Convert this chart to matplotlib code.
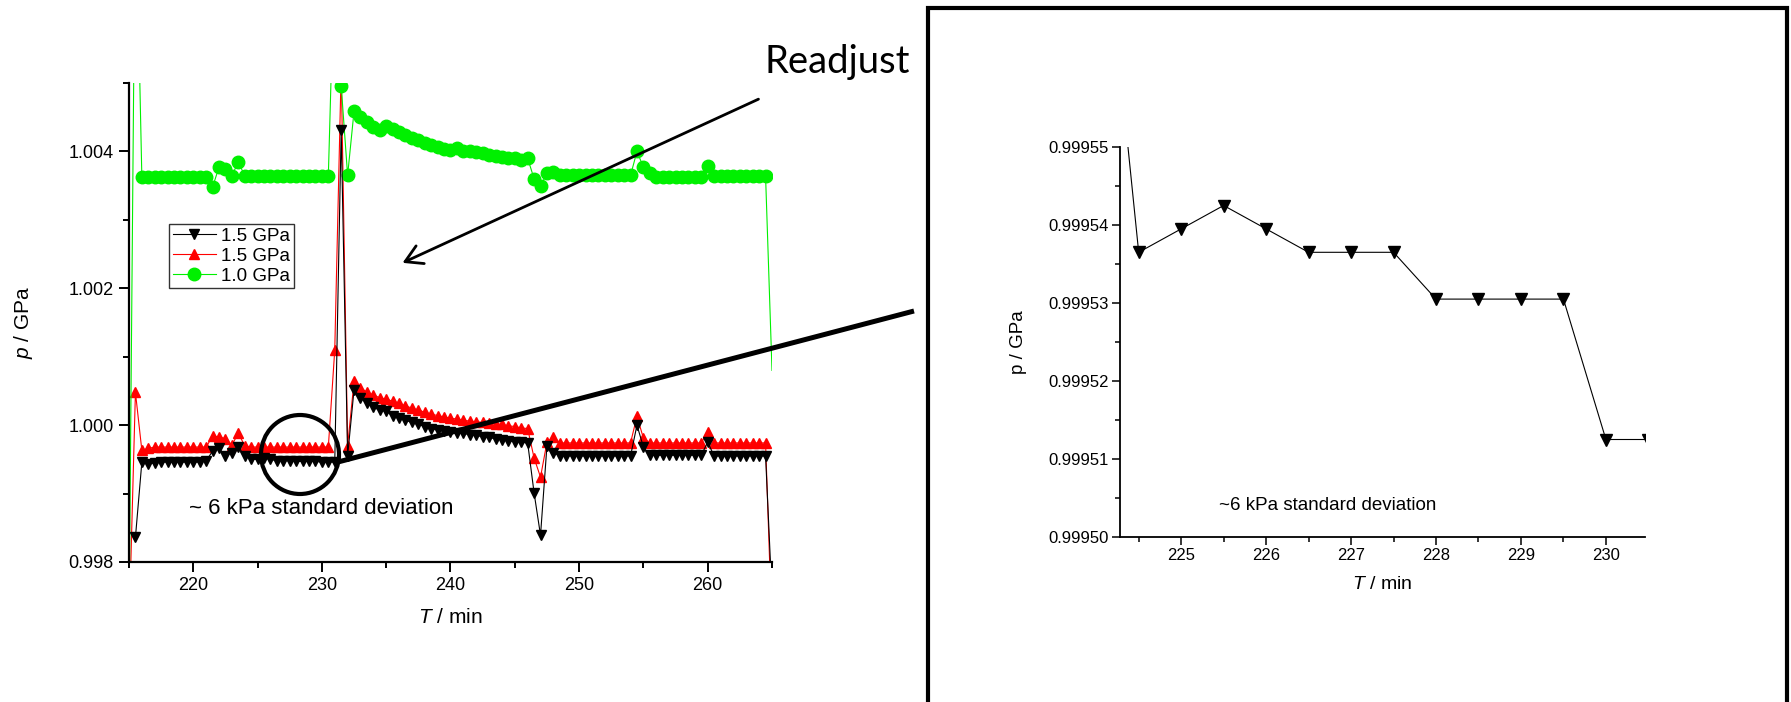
import numpy as np
import matplotlib
matplotlib.use('Agg')
import matplotlib.pyplot as plt
from matplotlib.ticker import MultipleLocator, FormatStrFormatter
from matplotlib.patches import Ellipse, Rectangle, FancyArrowPatch
from matplotlib.lines import Line2D

plt.rcParams['font.family'] = ['Liberation Sans', 'DejaVu Sans']
plt.rcParams['mathtext.fontset'] = 'custom'
plt.rcParams['mathtext.rm'] = 'Liberation Sans'
plt.rcParams['mathtext.it'] = 'Liberation Sans:italic'

# --- data: full run, one reading every 0.5 min (215 .. 265) ---
t_run = np.arange(215.0, 265.5, 0.5)

p_black = ([np.nan, 0.99836, 0.99946, 0.99943, 0.99945] + [0.99946] * 7 +
           [0.99948, 0.99962, 0.99966, 0.99955, 0.99960, 0.99968, 0.99955,
            0.99950, 0.99950, 0.99952, 0.99950, 0.99948, 0.99948, 0.99948,
            0.99947, 0.99947, 0.99947, 0.99947, 0.99946, 0.99946, 0.99946,
            1.00432, 0.99955,
            1.00052, 1.00040, 1.00032, 1.00026, 1.00022, 1.00020, 1.00014,
            1.00010, 1.00007, 1.00004, 1.00001, 0.99998, 0.99995, 0.99993,
            0.99991, 0.99990, 0.99988, 0.99988, 0.99986, 0.99985, 0.99983,
            0.99982, 0.99980, 0.99979, 0.99977, 0.99976, 0.99975, 0.99974,
            0.99901, 0.99839, 0.99970, 0.99960] + [0.99955] * 12 +
           [1.00000, 0.99968] + [0.99956] * 9 + [0.99975] + [0.99955] * 9 +
           [0.9975])

p_red = ([0.9970, 1.00048, 0.99963, 0.99966] + [0.99968] * 9 +
         [0.99984, 0.99983, 0.99980, 0.99971, 0.99988, 0.99970] +
         [0.99968] * 13 +
         [1.00110, 1.00520, 0.99970,
          1.00064, 1.00055, 1.00048, 1.00044, 1.00040, 1.00038, 1.00035,
          1.00032, 1.00028, 1.00025, 1.00022, 1.00019, 1.00016, 1.00014,
          1.00012, 1.00010, 1.00009, 1.00007, 1.00006, 1.00005, 1.00004,
          1.00003, 1.00002, 1.00001, 0.99999, 0.99998, 0.99996, 0.99995,
          0.99952, 0.99924, 0.99975, 0.99983] + [0.99974] * 12 +
         [1.00013, 0.99981] + [0.99974] * 9 + [0.99990] + [0.99974] * 9 +
         [0.9970])

p_green = ([0.9970, 1.0080, 1.00362] + [1.00363] * 10 +
           [1.00348, 1.00377, 1.00375, 1.00364, 1.00385] + [1.00364] * 14 +
           [1.0070, 1.00496, 1.00365,
            1.00459, 1.00450, 1.00443, 1.00435, 1.00431, 1.00437, 1.00433,
            1.00428, 1.00424, 1.00420, 1.00416, 1.00413, 1.00410, 1.00407,
            1.00404, 1.00402, 1.00405, 1.00400, 1.00400, 1.00399, 1.00398,
            1.00395, 1.00393, 1.00392, 1.00391, 1.00390, 1.00388, 1.00390,
            1.00360, 1.00349, 1.00368, 1.00370] + [1.00365] * 12 +
           [1.00400, 1.00377, 1.00368] + [1.00363] * 8 + [1.00378] +
           [1.00364] * 9 + [1.0008])

# --- data: zoom on the flat part of the 1.5 GPa run ---
t_zoom = [224.0, 224.5, 225.0, 225.5, 226.0, 226.5, 227.0, 227.5,
          228.0, 228.5, 229.0, 229.5, 230.0, 230.5]
p_zoom = [0.99959, 0.9995365, 0.9995395, 0.9995425, 0.9995395, 0.9995365,
          0.9995365, 0.9995365, 0.9995305, 0.9995305, 0.9995305, 0.9995305,
          0.9995125, 0.9995125]

series_labels = ['1.5 GPa', '1.5 GPa', '1.0 GPa']

W, H = 1791, 702
def fx(px):
    return px / W
def fy(py):
    return 1 - py / H

fig = plt.figure(figsize=(W / 100, H / 100), dpi=100)

# --- left panel ---
ax1 = fig.add_axes([fx(129), fy(562), (772 - 129) / W, (562 - 83) / H])
n = len(t_run)
ax1.plot(t_run, p_red, '^-', color='red', lw=0.8, ms=7.5, label=series_labels[1], zorder=2)
ax1.plot(t_run, p_black, 'v-', color='black', lw=0.8, ms=7.5, label=series_labels[0], zorder=3)
ax1.plot(t_run, p_green, 'o-', color='#00f000', lw=0.8, ms=9, label=series_labels[2],
         markevery=list(range(n - 1)), zorder=2)
ax1.set_xlim(215, 265)
ax1.set_ylim(0.998, 1.005)
ax1.xaxis.set_major_locator(MultipleLocator(10))
ax1.xaxis.set_minor_locator(MultipleLocator(5))
ax1.yaxis.set_major_locator(MultipleLocator(0.002))
ax1.yaxis.set_minor_locator(MultipleLocator(0.001))
ax1.yaxis.set_major_formatter(FormatStrFormatter('%.3f'))
for s in ['top', 'right']:
    ax1.spines[s].set_visible(False)
for s in ['left', 'bottom']:
    ax1.spines[s].set_linewidth(1.6)
ax1.tick_params(which='major', length=7, width=1.4, labelsize=13, pad=4)
ax1.tick_params(which='minor', length=4, width=1.4)
ax1.set_xlabel('$T$ / min', fontsize=15)
ax1.set_ylabel('$p$ / GPa', fontsize=15)
ax1.xaxis.set_label_coords(0.5, -0.096)
ax1.yaxis.set_label_coords(-0.146, 0.5)
ax1.text(219.64, 0.998788, '~ 6 kPa standard deviation', fontsize=16,
         ha='left', va='center')

h, l = ax1.get_legend_handles_labels()
leg = ax1.legend([h[1], h[0], h[2]], [l[1], l[0], l[2]], loc='upper left',
                 bbox_to_anchor=(0.062, 0.706), fontsize=13.5, frameon=True,
                 fancybox=False, edgecolor='black', borderpad=0.2,
                 labelspacing=0.15, handlelength=2.3, handletextpad=0.3,
                 borderaxespad=0)
leg.get_frame().set_linewidth(1.0)

# --- right panel ---
ax2 = fig.add_axes([fx(1120), fy(537), 525 / W, 390 / H])
ax2.plot(t_zoom, p_zoom, 'v-', color='black', lw=0.8, ms=8.5)
ax2.set_xlim(224.28, 230.46)
ax2.set_ylim(0.99950, 0.99955)
ax2.xaxis.set_major_locator(MultipleLocator(1))
ax2.xaxis.set_minor_locator(MultipleLocator(0.5))
ax2.yaxis.set_major_locator(MultipleLocator(0.00001))
ax2.yaxis.set_minor_locator(MultipleLocator(0.000005))
ax2.yaxis.set_major_formatter(FormatStrFormatter('%.5f'))
ax2.xaxis.set_major_formatter(FormatStrFormatter('%d'))
for s in ['top', 'right']:
    ax2.spines[s].set_visible(False)
for s in ['left', 'bottom']:
    ax2.spines[s].set_linewidth(1.3)
ax2.tick_params(which='major', length=6, width=1.1, labelsize=12, pad=2)
ax2.tick_params(which='minor', length=3.5, width=1.1)
ax2.set_xlabel('$T$ / min', fontsize=14)
ax2.set_ylabel('p / GPa', fontsize=13.5)
ax2.xaxis.set_label_coords(0.5, -0.1)
ax2.yaxis.set_label_coords(-0.177, 0.5)
ax2.text(225.44, 0.999504, '~6 kPa standard deviation', fontsize=13.5,
         ha='left', va='center')

# --- annotations drawn on the slide ---
fig.add_artist(Rectangle((fx(928), fy(706)), (1787 - 928) / W, (706 - 8) / H,
                         transform=fig.transFigure, fill=False, lw=3, ec='black'))
fig.add_artist(Ellipse((fx(300), fy(454.5)), 78 / W, 79 / H, transform=fig.transFigure,
                       fill=False, lw=3, ec='black'))
fig.add_artist(Line2D([fx(338), fx(914)], [fy(462), fy(311)], transform=fig.transFigure,
                      lw=3.6, color='black', solid_capstyle='butt'))
fig.add_artist(FancyArrowPatch((fx(761), fy(98)), (fx(400), fy(264)),
                               transform=fig.transFigure,
                               arrowstyle='->,head_length=0.6,head_width=0.35',
                               mutation_scale=20, lw=2, color='black'))
fig.text(fx(764), fy(73), 'Readjust', fontsize=27.5, family='Lato',
         ha='left', va='baseline')

fig.savefig('out.png', dpi=100)
